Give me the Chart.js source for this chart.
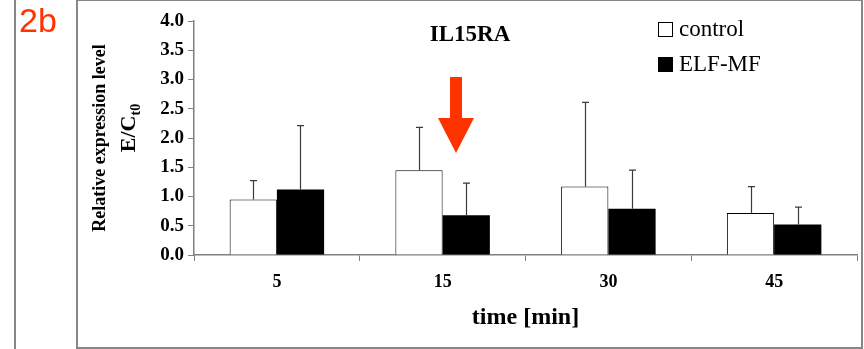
<!DOCTYPE html>
<html>
<head>
<meta charset="utf-8">
<script src="https://cdn.jsdelivr.net/npm/chart.js@4.4.1/dist/chart.umd.min.js"></script>
<style>
  html, body { margin: 0; padding: 0; background: #fff; }
  canvas { display: block; }
</style>
</head>
<body>
<canvas id="chart" width="864" height="349"></canvas>
<script>
// values (upper error bar = mean + err)
const times = ["5", "15", "30", "45"];
const controlMean = [0.95, 1.45, 1.17, 0.72];
const controlErr = [0.32, 0.73, 1.44, 0.45];
const elfMean = [1.12, 0.68, 0.79, 0.52];
const elfErr = [1.09, 0.55, 0.66, 0.30];

const serif = "'Liberation Serif', 'Times New Roman', serif";
const red = "#ff3300";

// frames, panel label, arrow, titles, legend
const decor = {
  id: "decor",
  beforeDraw(chart) {
    const ctx = chart.ctx;
    ctx.save();
    ctx.fillStyle = "#fff";
    ctx.fillRect(0, 0, chart.width, chart.height);
    ctx.strokeStyle = "#85878b";
    ctx.lineWidth = 2;
    ctx.beginPath();
    ctx.moveTo(15, 0); ctx.lineTo(15, 349);
    ctx.stroke();
    ctx.strokeRect(77, 0, 785, 348);
    ctx.restore();
  },
  afterDraw(chart) {
    const ctx = chart.ctx;
    const a = chart.chartArea;
    ctx.save();
    // panel label
    ctx.fillStyle = red;
    ctx.font = "34px 'Liberation Sans', Arial, sans-serif";
    ctx.textBaseline = "alphabetic";
    ctx.textAlign = "left";
    ctx.fillText("2b", 19, 32);

    // chart title
    ctx.fillStyle = "#000";
    ctx.font = "bold 23px " + serif;
    ctx.textAlign = "center";
    ctx.fillText("IL15RA", 470, 41);

    // x axis title
    ctx.font = "bold 24px " + serif;
    ctx.fillText("time [min]", (a.left + a.right) / 2, 324);

    // y axis title
    ctx.save();
    ctx.translate(105, 138);
    ctx.rotate(-Math.PI / 2);
    ctx.font = "bold 18px " + serif;
    ctx.textAlign = "center";
    ctx.fillText("Relative expression level", 0, 0);
    ctx.restore();

    ctx.save();
    ctx.translate(135, 128);
    ctx.rotate(-Math.PI / 2);
    ctx.textAlign = "left";
    ctx.font = "bold 22px " + serif;
    const w1 = ctx.measureText("E/C").width;
    ctx.font = "bold 14px " + serif;
    const w2 = ctx.measureText("t0").width;
    const x0 = -(w1 + w2) / 2;
    ctx.font = "bold 22px " + serif;
    ctx.fillText("E/C", x0, 0);
    ctx.font = "bold 14px " + serif;
    ctx.fillText("t0", x0 + w1, 5);
    ctx.restore();

    // legend
    ctx.lineWidth = 1;
    ctx.strokeStyle = "#000";
    ctx.fillStyle = "#fff";
    ctx.fillRect(658.5, 22.5, 14, 14);
    ctx.strokeRect(658.5, 22.5, 14, 14);
    ctx.fillStyle = "#000";
    ctx.fillRect(658, 57, 15, 15);
    ctx.font = "23px " + serif;
    ctx.textAlign = "left";
    ctx.fillText("control", 679, 36);
    ctx.fillText("ELF-MF", 679, 71);

    // arrow
    ctx.fillStyle = red;
    ctx.beginPath();
    ctx.moveTo(450, 77);
    ctx.lineTo(462, 77);
    ctx.lineTo(462, 118);
    ctx.lineTo(474, 118);
    ctx.lineTo(456, 153);
    ctx.lineTo(438, 118);
    ctx.lineTo(450, 118);
    ctx.closePath();
    ctx.fill();
    ctx.restore();
  }
};

// upper error bars drawn through the y scale
const errorBars = {
  id: "errorBars",
  afterDatasetsDraw(chart) {
    const ctx = chart.ctx;
    const y = chart.scales.y;
    ctx.save();
    ctx.strokeStyle = "#3a3a3a";
    ctx.lineWidth = 1.2;
    chart.data.datasets.forEach((ds, i) => {
      chart.getDatasetMeta(i).data.forEach((bar, j) => {
        const base = y.getPixelForValue(ds.data[j]);
        const top = y.getPixelForValue(ds.data[j] + ds.errors[j]);
        const x = Math.round(bar.x) + 0.5;
        ctx.beginPath();
        ctx.moveTo(x, base);
        ctx.lineTo(x, top);
        ctx.moveTo(x - 3.5, top);
        ctx.lineTo(x + 3.5, top);
        ctx.stroke();
      });
    });
    ctx.restore();
  }
};

new Chart(document.getElementById("chart"), {
  type: "bar",
  data: {
    labels: times,
    datasets: [
      { label: "control", data: controlMean, errors: controlErr, backgroundColor: "#fff", borderColor: "#000", borderWidth: 1 },
      { label: "ELF-MF", data: elfMean, errors: elfErr, backgroundColor: "#000", borderColor: "#000", borderWidth: 0 }
    ]
  },
  options: {
    responsive: false,
    animation: false,
    devicePixelRatio: 1,
    categoryPercentage: 0.57,
    barPercentage: 1.0,
    layout: { padding: { left: 154, right: 7, top: 21, bottom: 0 } },
    plugins: { legend: { display: false }, tooltip: { enabled: false } },
    scales: {
      x: {
        afterFit(scale) { scale.height = 94; },
        border: { color: "#808080", width: 1.5 },
        grid: { offset: true, drawOnChartArea: false, drawTicks: true, tickLength: 6, color: "#808080" },
        ticks: { color: "#000", padding: 11, font: { family: serif, size: 18, weight: "bold" } }
      },
      y: {
        min: 0,
        max: 4,
        afterFit(scale) { scale.width = 40; },
        border: { color: "#808080", width: 1.5 },
        grid: { drawOnChartArea: false, drawTicks: true, tickLength: 6, color: "#808080" },
        ticks: {
          stepSize: 0.5,
          color: "#000",
          padding: 4,
          font: { family: serif, size: 19, weight: "bold" },
          callback: v => v.toFixed(1)
        }
      }
    }
  },
  plugins: [decor, errorBars]
});
</script>
</body>
</html>
